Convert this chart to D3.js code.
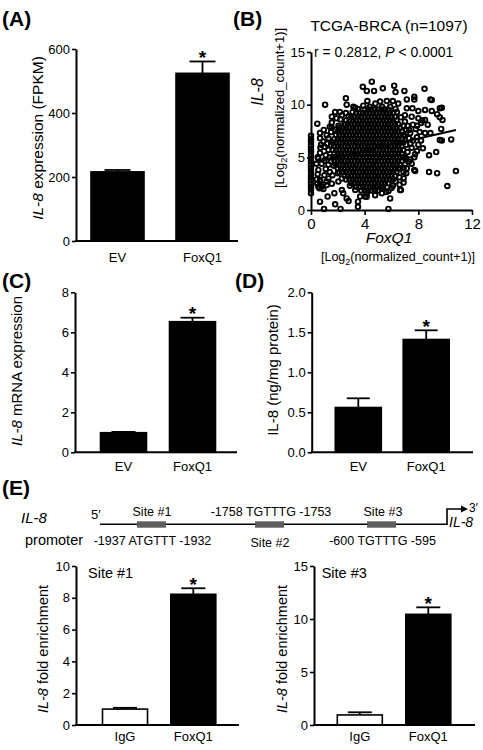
<!DOCTYPE html>
<html><head><meta charset="utf-8">
<script src="https://cdn.jsdelivr.net/npm/d3@7"></script>
<style>
html,body{margin:0;padding:0;background:#fff;}
svg{display:block;font-family:"Liberation Sans",Arial,Helvetica,sans-serif;}
</style></head><body>
<svg id="fig" width="483" height="750"></svg>
<script>
// ---------------- DATA ----------------
const catsEV = ["EV", "FoxQ1"];
const catsIgG = ["IgG", "FoxQ1"];

const meanA = [216, 524];
const semA = [6, 37];
const ticksA = [0, 200, 400, 600];

const meanC = [0.98, 6.53];
const semC = [0.04, 0.2];
const ticksC = [0, 2, 4, 6, 8];

const meanD = [0.56, 1.41];
const semD = [0.115, 0.115];
const ticksD = [0, 0.5, 1.0, 1.5, 2.0];

const meanE1 = [1.0, 8.22];
const semE1 = [0.08, 0.38];
const ticksE1 = [0, 2, 4, 6, 8, 10];

const meanE2 = [0.95, 10.44];
const semE2 = [0.25, 0.66];
const ticksE2 = [0, 5, 10, 15];

// Panel B scatter (FoxQ1 vs IL-8, log2 normalized counts)
const ticksBx = [0, 4, 8, 12];
const ticksBy = [0, 5, 10, 15];
const bZeroColumnY = [1.6,1.95,2.2,2.5,2.85,3.1,3.4,3.75,4.0,4.3,4.65,4.9,5.2,5.55,5.8,6.1,6.45,6.7,7.05];
const bCoreRows = [
  [9.55, [4.0,4.25,4.5,4.75,5.0,5.25,5.5,5.75]],
  [9.2,  [3.37,3.62,3.87,4.12,4.37,4.62,4.87,5.12,5.37,5.62,5.87,6.12]],
  [8.85, [3.0,3.25,3.5,3.75,4.0,4.25,4.5,4.75,5.0,5.25,5.5,5.75,6.0,6.25]],
  [8.5,  [2.62,2.87,3.12,3.37,3.62,3.87,4.12,4.37,4.62,4.87,5.12,5.37,5.62,5.87,6.12,6.37]],
  [8.15, [2.5,2.75,3.0,3.25,3.5,3.75,4.0,4.25,4.5,4.75,5.0,5.25,5.5,5.75,6.0,6.25,6.5]],
  [7.8,  [2.12,2.37,2.62,2.87,3.12,3.37,3.62,3.87,4.12,4.37,4.62,4.87,5.12,5.37,5.62,5.87,6.12,6.37,6.62]],
  [7.45, [2.0,2.25,2.5,2.75,3.0,3.25,3.5,3.75,4.0,4.25,4.5,4.75,5.0,5.25,5.5,5.75,6.0,6.25,6.5,6.75]],
  [7.1,  [1.87,2.12,2.37,2.62,2.87,3.12,3.37,3.62,3.87,4.12,4.37,4.62,4.87,5.12,5.37,5.62,5.87,6.12,6.37,6.62,6.87]],
  [6.75, [1.75,2.0,2.25,2.5,2.75,3.0,3.25,3.5,3.75,4.0,4.25,4.5,4.75,5.0,5.25,5.5,5.75,6.0,6.25,6.5,6.75]],
  [6.4,  [1.62,1.87,2.12,2.37,2.62,2.87,3.12,3.37,3.62,3.87,4.12,4.37,4.62,4.87,5.12,5.37,5.62,5.87,6.12,6.37,6.62,6.87]],
  [6.05, [1.75,2.0,2.25,2.5,2.75,3.0,3.25,3.5,3.75,4.0,4.25,4.5,4.75,5.0,5.25,5.5,5.75,6.0,6.25,6.5,6.75]],
  [5.7,  [1.62,1.87,2.12,2.37,2.62,2.87,3.12,3.37,3.62,3.87,4.12,4.37,4.62,4.87,5.12,5.37,5.62,5.87,6.12,6.37,6.62,6.87]],
  [5.35, [1.75,2.0,2.25,2.5,2.75,3.0,3.25,3.5,3.75,4.0,4.25,4.5,4.75,5.0,5.25,5.5,5.75,6.0,6.25,6.5,6.75]],
  [5.0,  [1.62,1.87,2.12,2.37,2.62,2.87,3.12,3.37,3.62,3.87,4.12,4.37,4.62,4.87,5.12,5.37,5.62,5.87,6.12,6.37,6.62,6.87]],
  [4.65, [1.75,2.0,2.25,2.5,2.75,3.0,3.25,3.5,3.75,4.0,4.25,4.5,4.75,5.0,5.25,5.5,5.75,6.0,6.25,6.5,6.75]],
  [4.3,  [1.87,2.12,2.37,2.62,2.87,3.12,3.37,3.62,3.87,4.12,4.37,4.62,4.87,5.12,5.37,5.62,5.87,6.12,6.37,6.62]],
  [3.95, [2.0,2.25,2.5,2.75,3.0,3.25,3.5,3.75,4.0,4.25,4.5,4.75,5.0,5.25,5.5,5.75,6.0,6.25,6.5]],
  [3.6,  [2.12,2.37,2.62,2.87,3.12,3.37,3.62,3.87,4.12,4.37,4.62,4.87,5.12,5.37,5.62,5.87,6.12,6.37]],
  [3.25, [2.5,2.75,3.0,3.25,3.5,3.75,4.0,4.25,4.5,4.75,5.0,5.25,5.5,5.75,6.0,6.25]],
  [2.9,  [2.62,2.87,3.12,3.37,3.62,3.87,4.12,4.37,4.62,4.87,5.12,5.37,5.62,5.87,6.12]],
  [2.55, [3.0,3.25,3.5,3.75,4.0,4.25,4.5,4.75,5.0,5.25,5.5,5.75]],
  [2.2,  [3.37,3.62,3.87,4.12,4.37,4.62,4.87,5.12,5.37]],
  [1.85, [3.75,4.0,4.25,4.5,4.75,5.0]]
];
const bOutliers = [
  [4.53,12.18],[3.86,11.7],[4.16,11.3],[4.7,11.3],[5.35,11.55],[6.2,11.8],[6.3,11.2],[6.96,11.3],
  [7.7,10.75],[7.7,10.5],[8.46,11.5],[7.14,10.5],[9.0,10.45],[8.9,10.5],[2.6,10.6],[2.66,10.0],[3.16,9.8],
  [1.05,10.0],[4.2,10.35],[4.8,10.1],[5.15,10.3],[5.65,10.35],[6.1,10.35],[6.5,10.1],[7.14,9.65],
  [7.56,9.65],[8.0,9.4],[8.5,9.5],[9.0,9.4],[7.0,9.0],[7.5,8.86],[8.0,8.7],[8.5,8.55],[7.0,8.4],
  [7.6,8.1],[8.2,8.25],[8.7,8.1],[1.8,9.3],[2.15,9.3],[1.55,8.86],[1.9,8.7],[2.3,9.0],[1.55,8.3],
  [1.55,7.8],[2.05,8.0],[2.55,8.1],[3.5,9.6],[3.9,9.9],[5.9,9.8],[6.3,9.6],[3.1,9.3],[2.8,8.9],
  [9.75,9.7],[9.6,9.65],[9.4,9.1],[9.6,8.8],[9.8,8.55],[10.45,6.7],[9.75,6.6],[9.6,6.65],[10.8,3.7],
  [10.16,2.28],[9.4,3.5],[8.8,3.6],[9.33,5.5],[8.8,5.2],[8.34,5.86],[7.9,5.6],[7.75,5.3],[7.7,5.0],
  [7.7,3.8],[7.14,3.96],[7.4,6.3],[6.7,1.9],[5.9,1.1],[5.77,0.1],[6.0,2.1],[9.7,7.7],[8.9,7.3],
  [8.5,7.3],[8.1,7.4],[7.3,7.6],[7.8,7.7],[8.3,8.5],[7.0,7.0],[7.3,6.8],[7.6,6.6],[7.1,6.2],[7.5,5.9],
  [7.2,5.5],[7.0,5.0],[7.3,4.6],[7.0,4.3],[7.5,4.4],[7.1,3.5],[6.9,3.0],[7.9,6.9],[8.2,6.6],[8.0,6.2],
  [7.2,8.0],[7.9,8.0],[7.4,7.3],[6.9,2.6],[6.6,2.4],[6.9,4.0],[7.4,4.8],
  [0.47,8.2],[0.67,7.3],[0.67,6.8],[0.92,6.5],[0.75,6.2],[1.17,7.1],[1.3,6.8],[0.67,5.4],[0.55,4.9],
  [0.8,4.4],[0.55,3.8],[0.67,2.7],[0.8,2.2],[0.55,2.2],[1.24,1.27],[1.17,2.37],[0.67,0.79],[0.97,0.1],
  [1.8,0.54],[2.2,0.1],[2.66,1.1],[2.8,0.85],[3.5,0.79],[3.5,0.3],[1.74,1.6],[2.4,1.6],[2.3,1.9],
  [0.92,2.0],[0.62,2.06],[0.47,2.5],[0.87,2.4],[1.17,2.7],[1.55,2.5],[2.04,2.7],[0.43,2.9],[0.67,2.85],
  [4.15,1.6],[4.78,1.4],[5.28,1.6],[5.77,1.8],[6.64,1.9],[6.64,3.96],[7.76,3.7],[3.66,1.27],[4.03,1.27],
  [4.78,1.9],[5.28,2.06],[4.15,1.26],[1.0,6.0],[1.3,5.7],[1.1,5.2],[1.4,5.0],[1.0,4.7],[1.3,4.3],
  [1.1,3.9],[1.4,3.6],[1.0,3.3],[1.3,3.0],[1.6,3.3],[1.5,6.2],[1.2,6.3],[1.5,7.4],[1.8,7.6],[0.95,7.6],
  [0.7,5.9],[0.5,5.0],[0.4,4.4],[0.5,3.4],
  [1.4,7.9],[2.2,8.6],[2.6,9.2],[3.3,9.7],[4.4,9.8],[5.3,9.8],[6.4,9.3],[6.7,8.8],[6.9,8.0],[7.1,7.6],
  [7.1,4.9],[6.9,3.6],[6.6,3.1],[6.3,2.7],[6.1,2.3],[5.6,1.7],[3.3,1.9],[2.9,2.3],[2.3,3.0],[2.0,3.5],
  [1.7,4.2],[1.5,4.6]
];
const bFit = [[0, 4.47], [10.8, 7.6]];

// ---------------- DRAWING ----------------
const FONT = '"Liberation Sans", Arial, Helvetica, sans-serif';
const svg = d3.select("#fig");

function rotLabel(g, cx, cy, size, parts, anchor) {
  const t = g.append("text")
    .attr("transform", `translate(${cx},${cy}) rotate(-90)`)
    .attr("text-anchor", anchor || "middle").attr("dy", "0.35em")
    .attr("font-size", size).attr("fill", "#000");
  parts.forEach(p => {
    const s = t.append("tspan").text(p.t);
    if (p.i) s.attr("font-style", "italic");
    if (p.sub) s.attr("font-size", size * 0.72).attr("dy", size * 0.28);
    if (p.unsub) s.attr("dy", -size * 0.28);
  });
  return t;
}

function barPanel(cfg) {
  const g = svg.append("g");
  const y = d3.scaleLinear().domain([0, cfg.yMax]).range([cfg.y0, cfg.y1]);
  const step = cfg.c1 - cfg.c0;
  const p = 1 - cfg.bw / step;
  const x = d3.scaleBand().domain(cfg.cats)
    .range([cfg.c0 - step / 2, cfg.c1 + step / 2]).paddingInner(p).paddingOuter(p / 2);
  const cx = d => x(d) + x.bandwidth() / 2;

  const eb = g.selectAll("g.eb").data(cfg.cats).join("g");
  eb.append("line").attr("x1", cx).attr("x2", cx)
    .attr("y1", (d, i) => y(cfg.mean[i])).attr("y2", (d, i) => y(cfg.mean[i] + cfg.sem[i]))
    .attr("stroke", "#000").attr("stroke-width", 1.8);
  eb.append("line").attr("x1", d => cx(d) - cfg.cap / 2).attr("x2", d => cx(d) + cfg.cap / 2)
    .attr("y1", (d, i) => y(cfg.mean[i] + cfg.sem[i])).attr("y2", (d, i) => y(cfg.mean[i] + cfg.sem[i]))
    .attr("stroke", "#000").attr("stroke-width", 1.8);

  g.selectAll("rect.bar").data(cfg.cats).join("rect")
    .attr("x", d => x(d)).attr("width", x.bandwidth())
    .attr("y", (d, i) => y(cfg.mean[i])).attr("height", (d, i) => y(0) - y(cfg.mean[i]))
    .attr("fill", (d, i) => cfg.fill[i]).attr("stroke", "#000").attr("stroke-width", 1.6);

  const ya = d3.axisLeft(y).tickValues(cfg.ticks).tickSize(4).tickSizeOuter(0)
    .tickFormat(cfg.fmt || d3.format("d"));
  const gy = g.append("g").attr("transform", `translate(${cfg.ax},0)`).call(ya);
  gy.select(".domain").attr("stroke-width", 2);
  gy.selectAll(".tick line").attr("stroke-width", 1.6);
  gy.selectAll(".tick text").attr("font-size", 13).attr("font-family", FONT).attr("fill", "#000").attr("x", -6);

  g.append("line").attr("x1", cfg.ax - 1).attr("x2", cfg.axEnd)
    .attr("y1", y(0)).attr("y2", y(0)).attr("stroke", "#000").attr("stroke-width", 2);

  g.selectAll("text.cat").data(cfg.cats).join("text")
    .attr("x", cx).attr("y", cfg.catY).attr("text-anchor", "middle")
    .attr("font-size", 13).attr("fill", "#000").text(d => d);

  g.append("text").attr("x", cx(cfg.cats[1])).attr("y", y(cfg.mean[1] + cfg.sem[1]) + 2.5)
    .attr("text-anchor", "middle").attr("font-size", 19).attr("font-weight", "bold").text("*");

  rotLabel(g, cfg.tx, cfg.ty, cfg.tSize, cfg.title);
  return g;
}

// Panel A
barPanel({cats: catsEV, mean: meanA, sem: semA, ticks: ticksA, yMax: 600, y0: 241, y1: 49,
  c0: 117.5, c1: 202.5, bw: 53, cap: 26, ax: 76, axEnd: 238, fill: ["#000", "#000"], catY: 261.5,
  tx: 38, ty: 138, tSize: 15.5,
  title: [{t: "IL-8", i: true}, {t: " expression (FPKM)"}]});

// Panel C
barPanel({cats: catsEV, mean: meanC, sem: semC, ticks: ticksC, yMax: 8, y0: 452.3, y1: 292.3,
  c0: 123.5, c1: 192.5, bw: 46, cap: 24, ax: 75, axEnd: 237, fill: ["#000", "#000"], catY: 470.5,
  tx: 17, ty: 371, tSize: 15,
  title: [{t: "IL-8", i: true}, {t: " mRNA expression"}]});

// Panel D
barPanel({cats: catsEV, mean: meanD, sem: semD, ticks: ticksD, yMax: 2, y0: 452.3, y1: 292.3,
  c0: 358.3, c1: 426.2, bw: 46, cap: 23, ax: 311.7, axEnd: 473, fill: ["#000", "#000"], catY: 470.5,
  fmt: d3.format(".1f"), tx: 273, ty: 370, tSize: 15,
  title: [{t: "IL-8 (ng/mg protein)"}]});

// Panel E left (Site #1)
barPanel({cats: catsIgG, mean: meanE1, sem: semE1, ticks: ticksE1, yMax: 10, y0: 725, y1: 566,
  c0: 125, c1: 193.3, bw: 45, cap: 24, ax: 76, axEnd: 239, fill: ["#fff", "#000"], catY: 741,
  tx: 43, ty: 649, tSize: 14.5,
  title: [{t: "IL-8", i: true}, {t: " fold enrichment"}]});

// Panel E right (Site #3)
barPanel({cats: catsIgG, mean: meanE2, sem: semE2, ticks: ticksE2, yMax: 15, y0: 725, y1: 566,
  c0: 359.8, c1: 428.3, bw: 45, cap: 24, ax: 314, axEnd: 475, fill: ["#fff", "#000"], catY: 741,
  tx: 282, ty: 649, tSize: 14.5,
  title: [{t: "IL-8", i: true}, {t: " fold enrichment"}]});

svg.append("text").attr("x", 88).attr("y", 578).attr("font-size", 14.5).text("Site #1");
svg.append("text").attr("x", 321.7).attr("y", 578).attr("font-size", 14.5).text("Site #3");

// Panel B scatter
(function () {
  const g = svg.append("g");
  const x = d3.scaleLinear().domain([0, 12]).range([311, 472]);
  const y = d3.scaleLinear().domain([0, 15]).range([210, 52]);
  const pts = [];
  bZeroColumnY.forEach(v => pts.push([0, v]));
  bCoreRows.forEach(r => r[1].forEach(xv => pts.push([xv, r[0]])));
  bOutliers.forEach(p => pts.push(p));
  g.selectAll("circle").data(pts).join("circle")
    .attr("cx", d => x(d[0])).attr("cy", d => y(d[1])).attr("r", 2.3)
    .attr("fill", "none").attr("stroke", "#000").attr("stroke-width", 1.9);
  g.append("path").datum(bFit)
    .attr("d", d3.line().x(d => x(d[0])).y(d => y(d[1])))
    .attr("stroke", "#000").attr("stroke-width", 2).attr("fill", "none");

  const gx = g.append("g").attr("transform", `translate(0,${y(0)})`)
    .call(d3.axisBottom(x).tickValues(ticksBx).tickSize(5).tickSizeOuter(0).tickFormat(d3.format("d")));
  gx.select(".domain").attr("stroke-width", 2);
  gx.selectAll(".tick line").attr("stroke-width", 1.6);
  gx.selectAll(".tick text").attr("font-size", 15).attr("font-family", FONT).attr("fill", "#000").attr("y", 8);

  const gy = g.append("g").attr("transform", `translate(${x(0)},0)`)
    .call(d3.axisLeft(y).tickValues(ticksBy).tickSize(4).tickSizeOuter(0).tickFormat(d3.format("d")));
  gy.select(".domain").attr("stroke-width", 2);
  gy.selectAll(".tick line").attr("stroke-width", 1.6);
  gy.selectAll(".tick text").attr("font-size", 13).attr("font-family", FONT).attr("fill", "#000").attr("x", -6);

  g.append("text").attr("x", 389).attr("y", 31).attr("text-anchor", "middle")
    .attr("font-size", 15.5).text("TCGA-BRCA (n=1097)");
  const st = g.append("text").attr("x", 314).attr("y", 57).attr("font-size", 14);
  st.append("tspan").text("r = 0.2812, ");
  st.append("tspan").attr("font-style", "italic").text("P");
  st.append("tspan").text(" < 0.0001");

  rotLabel(g, 257, 92, 16, [{t: "IL-8", i: true}]);
  rotLabel(g, 279, 108, 13, [{t: "[Log"}, {t: "2", sub: true}, {t: "(normalized_count+1)]", unsub: true}]);

  g.append("text").attr("x", 389).attr("y", 243).attr("text-anchor", "middle")
    .attr("font-size", 15.5).attr("font-style", "italic").text("FoxQ1");
  const xl = g.append("text").attr("x", 398).attr("y", 261).attr("text-anchor", "middle").attr("font-size", 12.5);
  xl.append("tspan").text("[Log");
  xl.append("tspan").attr("font-size", 9).attr("dy", 3.5).text("2");
  xl.append("tspan").attr("dy", -3.5).text("(normalized_count+1)]");
})();

// Panel letters
[["(A)", 2, 26], ["(B)", 233, 26], ["(C)", 2, 288], ["(D)", 235, 288], ["(E)", 2, 495]].forEach(d => {
  svg.append("text").attr("x", d[1]).attr("y", d[2]).attr("font-size", 21)
    .attr("font-weight", "bold").text(d[0]);
});

// Promoter schematic (E)
(function () {
  const g = svg.append("g");
  const siteLabelsTop = [["Site #1", 152], ["-1758 TGTTTG -1753", 271], ["Site #3", 383]];
  const siteLabelsBottom = [["-1937 ATGTTT -1932", 152.5, 545], ["Site #2", 270, 546.5], ["-600 TGTTTG -595", 382.5, 545]];
  const boxes = [137, 255, 367];
  g.append("text").attr("x", 21).attr("y", 523).attr("font-size", 15).attr("font-style", "italic").text("IL-8");
  g.append("text").attr("x", 25).attr("y", 545).attr("font-size", 14.5).text("promoter");
  g.append("text").attr("x", 91).attr("y", 519).attr("font-size", 13).text("5′");
  g.append("path").attr("d", "M100,524.3 H447 V509 H462").attr("fill", "none")
    .attr("stroke", "#000").attr("stroke-width", 1.6);
  g.append("path").attr("d", "M461,505.5 L468,509 L461,512.5 Z").attr("fill", "#000");
  g.append("text").attr("x", 469).attr("y", 512).attr("font-size", 12).text("3′");
  g.append("text").attr("x", 449).attr("y", 527).attr("font-size", 14).attr("font-style", "italic").text("IL-8");
  boxes.forEach(b => g.append("rect").attr("x", b).attr("y", 521.3).attr("width", 29).attr("height", 6.4).attr("fill", "#5e5e5e"));
  siteLabelsTop.forEach(s => g.append("text").attr("x", s[1]).attr("y", 516).attr("text-anchor", "middle").attr("font-size", 12.5).text(s[0]));
  siteLabelsBottom.forEach(s => g.append("text").attr("x", s[1]).attr("y", s[2]).attr("text-anchor", "middle").attr("font-size", 12.5).text(s[0]));
})();
</script>
</body></html>
